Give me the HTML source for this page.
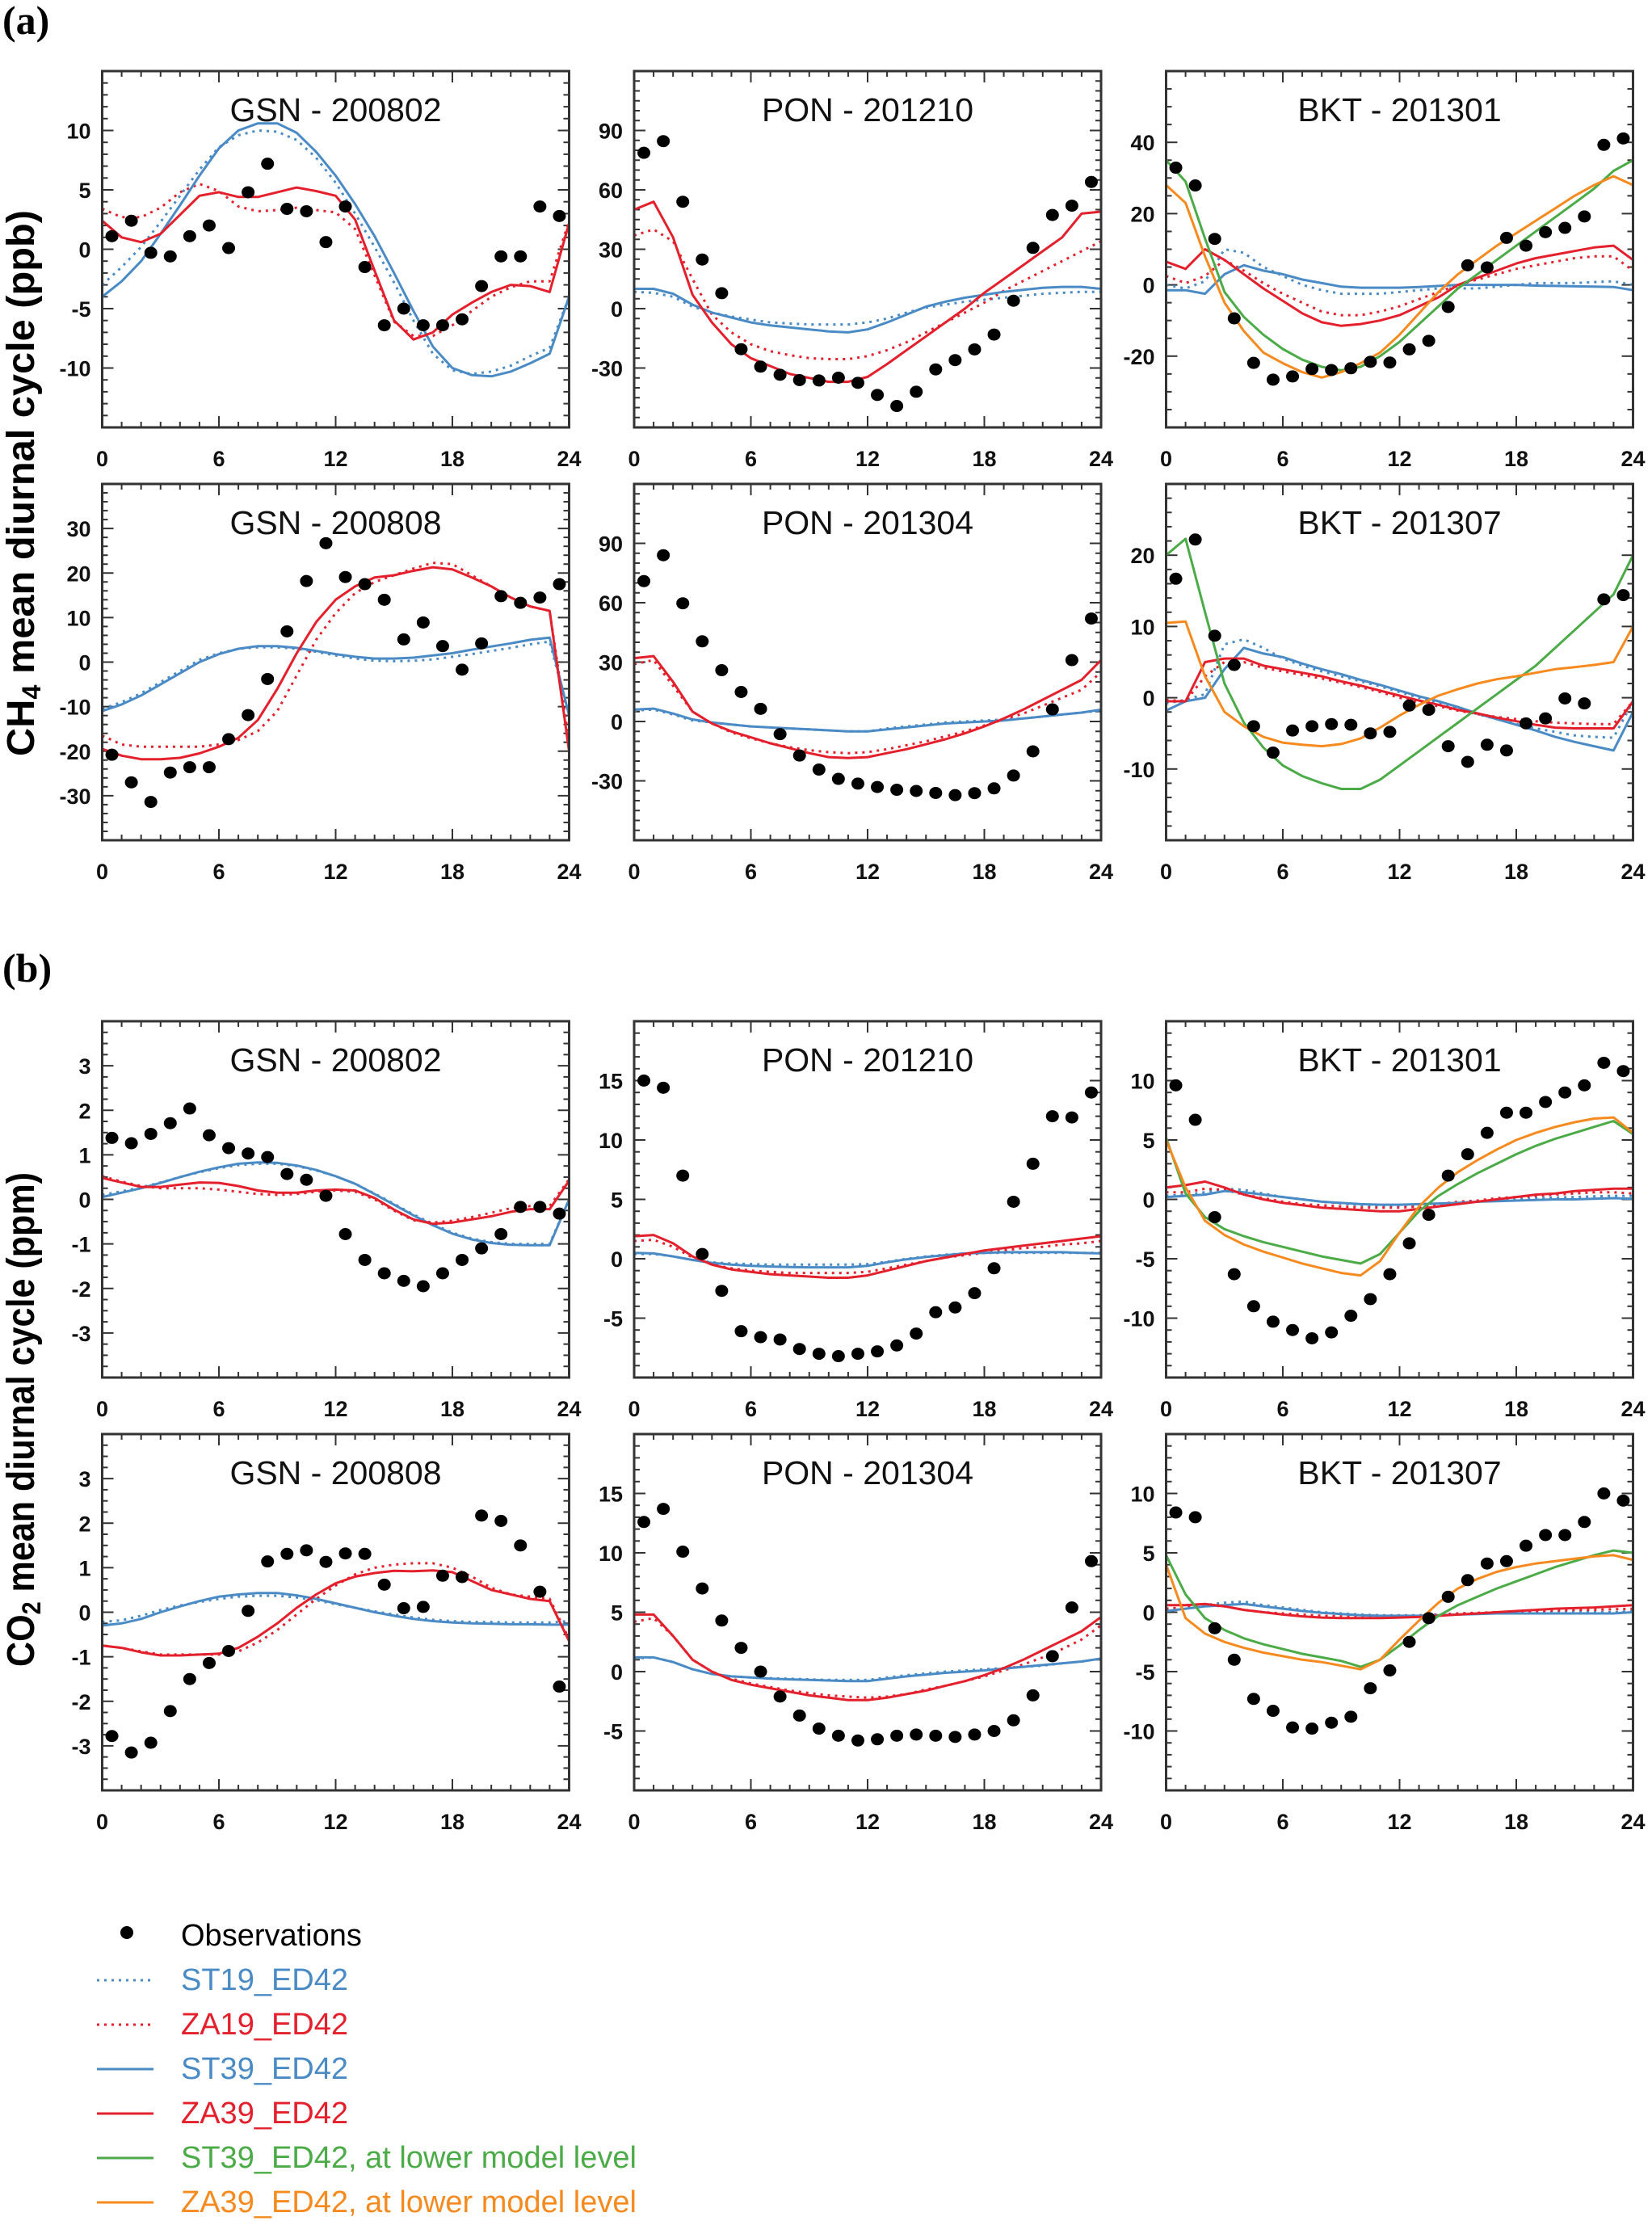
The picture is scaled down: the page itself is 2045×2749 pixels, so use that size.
<!DOCTYPE html>
<html><head><meta charset="utf-8"><title>CH4 and CO2 mean diurnal cycles</title>
<style>
html,body{margin:0;padding:0;background:#fff;}
svg{display:block;}
.tk{font-family:"Liberation Sans",Arial,sans-serif;font-weight:bold;font-size:27px;fill:#111;}
.ttl{font-family:"Liberation Sans",Arial,sans-serif;font-size:41px;fill:#111;}
.leg{font-family:"Liberation Sans",Arial,sans-serif;font-size:38px;}
</style></head>
<body>
<svg id="fig" xmlns="http://www.w3.org/2000/svg" width="2045" height="2749" viewBox="0 0 2045 2749">
<rect x="0" y="0" width="2045" height="2749" fill="#fff"/>
<text x="3" y="42" font-family="Liberation Serif,serif" font-weight="bold" font-size="50">(a)</text>
<text x="3" y="1215" font-family="Liberation Serif,serif" font-weight="bold" font-size="50">(b)</text>
<text transform="translate(42,598) rotate(-90)" text-anchor="middle" font-family="Liberation Sans,Arial,sans-serif" font-weight="bold" font-size="48" textLength="676" lengthAdjust="spacingAndGlyphs">CH<tspan font-size="32" dy="8">4</tspan><tspan dy="-8"> mean diurnal cycle (ppb)</tspan></text>
<text transform="translate(42,1757) rotate(-90)" text-anchor="middle" font-family="Liberation Sans,Arial,sans-serif" font-weight="bold" font-size="48" textLength="612" lengthAdjust="spacingAndGlyphs">CO<tspan font-size="32" dy="8">2</tspan><tspan dy="-8"> mean diurnal cycle (ppm)</tspan></text>
<g id="panels"></g>
<g id="legend"></g>
</svg>
<script>
// ===== CH4 GSN 200802 =====
const ch4_gsn0802_obs = [1.1,2.4,-0.3,-0.6,1.1,2.0,0.1,4.8,7.2,3.4,3.2,0.6,3.6,-1.5,-6.4,-5.0,-6.4,-6.4,-5.9,-3.1,-0.6,-0.6,3.6,2.8];
const ch4_gsn0802_st19 = [-3,-1.5,0.2,2.3,4.5,6.7,8.6,9.6,10.0,9.9,9.2,7.7,5.6,3.0,0.2,-2.8,-6.0,-8.8,-10.2,-10.5,-10.3,-9.8,-9.0,-8.3,-4];
const ch4_gsn0802_za19 = [3.4,2.7,2.7,3.5,4.8,5.5,4.9,3.6,3.2,3.3,3.5,3.3,3.1,1.7,-2.2,-6.1,-7.3,-7.3,-6.4,-5.2,-4.0,-3.2,-2.7,-2.7,2.4];
const ch4_gsn0802_st39 = [-4,-2.7,-1,1.3,3.7,6.2,8.5,10.0,10.6,10.6,9.8,8.2,6.2,3.8,1.1,-2.0,-5.2,-8.2,-10,-10.6,-10.7,-10.3,-9.6,-8.8,-4];
const ch4_gsn0802_za39 = [2.4,1.0,0.6,1.3,2.9,4.5,4.8,4.4,4.4,4.8,5.2,4.9,4.5,2.5,-1.8,-6.0,-7.6,-7.0,-5.5,-4.5,-3.6,-3.0,-3.1,-3.6,2.2];
// ===== CH4 PON 201210 =====
const ch4_pon1210_obs = [78.7,84.6,54,24.8,7.8,-20.5,-29.3,-33.4,-36.1,-36.3,-34.9,-37.5,-43.6,-49.2,-42,-30.7,-26,-20.6,-13.1,4,30.7,47.3,52,64];
const ch4_pon1210_st19 = [8.5,8,6,1,-2,-4,-5.5,-7,-7.5,-8,-8,-8,-7,-5,-2,0.5,2,3.5,4.5,5.5,6.5,7.5,8,8.5,8.5];
const ch4_pon1210_za19 = [37,40,34,15,-3,-12,-18,-21.5,-23.5,-25,-25.5,-25.5,-24,-21,-17,-12,-7,-2,3,9,14,19,24,29,34];
const ch4_pon1210_st39 = [10,10,7.5,2,-2,-4.5,-7,-8.5,-9.5,-10.5,-11.5,-12,-10.5,-7,-3,1,3.5,5.5,7,8.5,9.5,10.5,11,11,10];
const ch4_pon1210_za39 = [50,54,36,7,-7,-18,-25,-29,-33,-35,-37,-37,-34.5,-28,-21,-14,-7,0,8,15,22,29,36,48,49];
// ===== CH4 BKT 201301 =====
const ch4_bkt1301_obs = [32.9,27.9,12.9,-9.4,-21.9,-26.6,-25.7,-23.6,-23.9,-23.4,-21.6,-21.8,-18.1,-15.7,-6.2,5.5,4.9,13.2,11,14.8,16,19.2,39.3,41.1];
const ch4_bkt1301_st19 = [0,-1,1,10,9,5,2.5,0,-1.5,-2.5,-2.5,-2.5,-2,-1.5,-1,-1,-1,-0.5,0,0.5,0.5,0.5,0.8,1,0];
const ch4_bkt1301_za19 = [2.5,0.5,2.5,7,4,0.5,-2.5,-5,-7.5,-8.5,-8.5,-7.5,-6,-4,-2,0,1.5,3,4.5,5.5,6.5,7.5,8,8,4];
const ch4_bkt1301_st39 = [-1.5,-1.5,-2.5,3,5.5,4,3,1.5,0.5,-0.5,-0.8,-0.8,-0.8,-0.6,-0.3,0,0,0,0,-0.2,-0.3,-0.4,-0.5,-0.6,-1.5];
const ch4_bkt1301_za39 = [6.5,4.5,10,7,3,-1,-4.5,-8,-10.5,-11.5,-11,-10,-8.5,-6,-3.5,0,2,4,6,7.5,8.5,9.5,10.5,11,7];
const ch4_bkt1301_st39low = [35,29,13,-2,-9,-14,-18,-21,-23,-24,-23,-20,-16,-11,-6,-1,3,7,11,15,19,23,27,32,35];
const ch4_bkt1301_za39low = [28,23,8,-5,-13,-19,-22,-24.5,-26,-24.5,-22,-19,-14,-8,-2,3,7,11,14.5,18,21.5,25,28,30.5,28];
// ===== CH4 GSN 200808 =====
const ch4_gsn0808_obs = [-20.8,-27,-31.4,-24.8,-23.6,-23.6,-17.3,-11.9,-3.8,6.9,18.2,26.7,19.1,17.5,14,5.1,8.9,3.6,-1.7,4.2,14.8,13.3,14.5,17.5];
const ch4_gsn0808_st19 = [-10.5,-9,-7,-4.5,-2,0.5,2,3,3.3,3.3,3,2.3,1.5,0.8,0.3,0.2,0.3,0.6,1.2,1.8,2.5,3.2,4,4.6,-12];
const ch4_gsn0808_za19 = [-16.5,-18.5,-19,-19,-19,-19,-18.5,-17.5,-15.5,-11,-3,5,11,15.5,18,19.5,21,22.3,22,19.5,17,14.5,12.5,11.5,-18];
const ch4_gsn0808_st39 = [-11,-9.5,-7.5,-5,-2.5,0,1.8,3,3.6,3.6,3.2,2.5,1.8,1.2,0.8,0.8,1,1.5,2,2.8,3.5,4.2,5,5.5,-12];
const ch4_gsn0808_za39 = [-19.5,-21,-21.8,-21.8,-21.5,-20.5,-19,-17,-13,-6,2,9,14,17,19,19.5,20.5,21.3,20.8,19,17,14.5,12.5,11.5,-20];
// ===== CH4 PON 201304 =====
const ch4_pon1304_obs = [70.9,84,59.7,40.5,25.9,14.9,6.4,-6.4,-17.2,-24.3,-29,-31.4,-33.1,-34.5,-35.1,-36.1,-37.2,-36.2,-33.8,-27.3,-15.1,6.1,31,52];
const ch4_pon1304_st19 = [5.5,6,3.5,0.5,-0.5,-1.5,-2.5,-3,-3.5,-4,-4.5,-5,-5,-3.5,-2.5,-1.5,-0.5,0,0.5,1,1.5,2.5,3.5,4.5,5.5];
const ch4_pon1304_za19 = [29,31,18,5,-1,-5.5,-8.5,-11,-13,-14.5,-15.5,-16,-15.5,-14,-12,-10,-7.5,-5,-2,1,4,8,12,16,25];
const ch4_pon1304_st39 = [6,6.5,4,1,-0.5,-1.5,-2.5,-3,-3.5,-4,-4.5,-5,-5,-4,-3,-2,-1,-0.5,0,0.5,1.5,2.5,3.5,4.5,6];
const ch4_pon1304_za39 = [32,33,20,5,-1,-5,-8,-11,-13.5,-16,-18,-18.5,-18,-16,-14,-11.5,-9,-6,-2.5,1.5,6,11,16,21,31];
// ===== CH4 BKT 201307 =====
const ch4_bkt1307_obs = [16.7,22.2,8.7,4.6,-4,-7.7,-4.6,-4,-3.7,-3.8,-5,-4.8,-1.1,-1.7,-6.8,-9,-6.6,-7.4,-3.6,-2.9,-0.1,-0.8,13.8,14.4];
const ch4_bkt1307_st19 = [-0.8,-0.3,0.5,7.5,8.2,7,5.5,4.5,3.7,3,2.3,1.6,0.8,0,-0.8,-1.5,-2.3,-3,-3.7,-4.3,-4.8,-5.3,-5.5,-5.6,-0.5];
const ch4_bkt1307_za19 = [-0.3,-0.5,3,5,5,4.2,3.7,3.2,2.7,2.1,1.5,0.8,0,-0.7,-1.2,-1.8,-2.3,-2.7,-3,-3.3,-3.5,-3.6,-3.7,-3.7,-0.5];
const ch4_bkt1307_st39 = [-1.8,-0.5,0,4,7,6.2,5.7,4.8,4,3.3,2.5,1.8,1,0.2,-0.5,-1.3,-2.2,-3.0,-3.8,-4.6,-5.5,-6.2,-6.8,-7.4,-2];
const ch4_bkt1307_za39 = [-0.5,-0.5,5,5.5,5.5,4.5,4,3.5,3,2.3,1.7,1,0.3,-0.4,-1,-1.7,-2.2,-2.8,-3.3,-3.8,-4.2,-4.3,-4.3,-4.3,-0.5];
const ch4_bkt1307_st39low = [20,22.3,12,2,-3.5,-7,-9.5,-11,-12,-12.8,-12.8,-11.5,-9.5,-7.5,-5.5,-3.5,-1.5,0.5,2.5,4.5,7,9.5,12,14.5,20];
const ch4_bkt1307_za39low = [10.5,10.7,3,-2,-4,-5.5,-6.3,-6.6,-6.8,-6.5,-5.7,-4.2,-2.5,-1,0.3,1.2,2,2.6,3,3.5,4,4.3,4.6,5,10];
// ===== CO2 GSN 200802 =====
const co2_gsn0802_obs = [1.38,1.26,1.47,1.71,2.04,1.44,1.15,1.03,0.95,0.57,0.44,0.08,-0.78,-1.36,-1.66,-1.83,-1.95,-1.66,-1.36,-1.1,-0.78,-0.17,-0.17,-0.32];
const co2_gsn0802_st19 = [0.1,0.18,0.27,0.38,0.5,0.61,0.7,0.77,0.8,0.8,0.75,0.65,0.52,0.35,0.13,-0.1,-0.34,-0.55,-0.75,-0.88,-0.96,-1.0,-1.0,-1.0,0];
const co2_gsn0802_za19 = [0.52,0.4,0.3,0.25,0.25,0.25,0.22,0.17,0.12,0.1,0.12,0.17,0.2,0.17,0.0,-0.25,-0.47,-0.52,-0.48,-0.4,-0.3,-0.2,-0.15,-0.15,0.45];
const co2_gsn0802_st39 = [0.05,0.15,0.25,0.37,0.5,0.62,0.72,0.8,0.83,0.82,0.76,0.66,0.52,0.35,0.12,-0.12,-0.36,-0.58,-0.77,-0.9,-0.98,-1.02,-1.03,-1.03,0];
const co2_gsn0802_za39 = [0.48,0.38,0.28,0.28,0.33,0.38,0.37,0.3,0.2,0.15,0.15,0.2,0.22,0.2,0.03,-0.23,-0.45,-0.55,-0.52,-0.45,-0.38,-0.28,-0.22,-0.22,0.42];
// ===== CO2 PON 201210 =====
const co2_pon1210_obs = [15,14.4,7,0.4,-2.7,-6.1,-6.6,-6.8,-7.6,-8.0,-8.2,-8.0,-7.8,-7.3,-6.3,-4.5,-4.1,-2.9,-0.8,4.8,8,12,11.9,14];
const co2_pon1210_st19 = [0.4,0.4,0.2,-0.1,-0.3,-0.4,-0.45,-0.5,-0.5,-0.5,-0.5,-0.5,-0.45,-0.25,0,0.2,0.35,0.45,0.5,0.5,0.5,0.5,0.5,0.5,0.5];
const co2_pon1210_za19 = [1.5,1.6,1.0,0.1,-0.5,-0.8,-1.0,-1.1,-1.2,-1.2,-1.2,-1.2,-1.1,-0.8,-0.5,-0.2,0.1,0.3,0.5,0.7,0.9,1.0,1.2,1.3,1.5];
const co2_pon1210_st39 = [0.5,0.45,0.2,-0.1,-0.35,-0.5,-0.6,-0.65,-0.7,-0.72,-0.72,-0.72,-0.6,-0.3,-0.05,0.15,0.3,0.45,0.5,0.55,0.55,0.55,0.55,0.5,0.45];
const co2_pon1210_za39 = [1.9,2.0,1.3,0.2,-0.5,-0.9,-1.1,-1.3,-1.4,-1.5,-1.6,-1.6,-1.4,-1.0,-0.6,-0.2,0.1,0.4,0.7,0.9,1.1,1.3,1.5,1.7,1.9];
// ===== CO2 BKT 201301 =====
const co2_bkt1301_obs = [9.6,6.7,-1.5,-6.3,-9.0,-10.3,-11,-11.7,-11.2,-9.8,-8.4,-6.3,-3.7,-1.3,2,3.8,5.6,7.3,7.3,8.2,9,9.6,11.5,10.8];
const co2_bkt1301_st19 = [0.3,0.4,0.6,0.9,0.8,0.5,0.2,0,-0.2,-0.35,-0.5,-0.55,-0.55,-0.5,-0.4,-0.3,-0.2,-0.1,0,0.1,0.15,0.2,0.25,0.3,0.3];
const co2_bkt1301_za19 = [0.6,0.6,0.9,0.8,0.4,0.1,-0.2,-0.4,-0.5,-0.6,-0.7,-0.7,-0.7,-0.6,-0.4,-0.2,-0.1,0.1,0.2,0.3,0.4,0.5,0.6,0.6,0.5];
const co2_bkt1301_st39 = [0.2,0.3,0.4,0.7,0.6,0.4,0.2,0,-0.2,-0.3,-0.4,-0.45,-0.45,-0.4,-0.35,-0.3,-0.2,-0.15,-0.1,-0.05,0,0,0.05,0.1,0.05];
const co2_bkt1301_za39 = [1.0,1.2,1.5,1.0,0.4,0,-0.3,-0.5,-0.7,-0.8,-0.9,-1.0,-1.0,-0.8,-0.6,-0.4,-0.2,0,0.2,0.4,0.5,0.7,0.8,0.9,0.9];
const co2_bkt1301_st39low = [5.2,0.5,-1.5,-2.5,-3.1,-3.6,-4.0,-4.4,-4.8,-5.1,-5.4,-4.6,-2.8,-1.0,0.3,1.3,2.2,3.0,3.8,4.5,5.1,5.6,6.1,6.6,5.5];
const co2_bkt1301_za39low = [5,1,-1.8,-3,-3.8,-4.4,-4.9,-5.4,-5.8,-6.2,-6.4,-5.2,-2.8,-0.6,1.0,2.3,3.3,4.2,5.0,5.6,6.1,6.5,6.8,6.9,5.6];
// ===== CO2 GSN 200808 =====
const co2_gsn0808_obs = [-2.78,-3.15,-2.93,-2.22,-1.5,-1.14,-0.87,0.03,1.14,1.31,1.39,1.13,1.32,1.31,0.62,0.09,0.12,0.82,0.79,2.17,2.05,1.5,0.46,-1.67];
const co2_gsn0808_st19 = [-0.22,-0.18,-0.08,0.05,0.15,0.23,0.3,0.35,0.37,0.37,0.33,0.27,0.18,0.1,0.02,-0.05,-0.12,-0.17,-0.2,-0.22,-0.22,-0.23,-0.23,-0.23,-0.2];
const co2_gsn0808_za19 = [-0.75,-0.8,-0.88,-0.95,-0.95,-0.95,-0.95,-0.88,-0.68,-0.4,-0.05,0.3,0.6,0.85,1.0,1.07,1.1,1.1,1.0,0.8,0.55,0.4,0.35,0.3,-0.6];
const co2_gsn0808_st39 = [-0.3,-0.25,-0.15,0,0.13,0.25,0.35,0.4,0.43,0.43,0.38,0.3,0.2,0.1,0.0,-0.08,-0.15,-0.2,-0.23,-0.25,-0.26,-0.27,-0.27,-0.28,-0.28];
const co2_gsn0808_za39 = [-0.75,-0.8,-0.9,-0.97,-0.97,-0.95,-0.93,-0.8,-0.55,-0.25,0.1,0.4,0.65,0.8,0.88,0.93,0.92,0.94,0.9,0.7,0.5,0.4,0.3,0.25,-0.65];
// ===== CO2 PON 201304 =====
const co2_pon1304_obs = [12.6,13.7,10.1,7,4.3,2,0,-2.1,-3.7,-4.8,-5.4,-5.8,-5.7,-5.4,-5.3,-5.4,-5.5,-5.3,-5,-4.1,-2,1.3,5.4,9.3];
const co2_pon1304_st19 = [1.1,1.2,0.8,0.2,-0.2,-0.4,-0.5,-0.55,-0.6,-0.65,-0.7,-0.7,-0.7,-0.5,-0.3,-0.15,0,0.1,0.2,0.3,0.4,0.5,0.7,0.85,1.1];
const co2_pon1304_za19 = [4.2,4.5,3,1,0,-0.6,-1.0,-1.3,-1.6,-1.8,-2.0,-2.1,-2.2,-2.1,-1.9,-1.5,-1.2,-0.8,-0.4,0.1,0.6,1.2,1.9,2.7,3.9];
const co2_pon1304_st39 = [1.2,1.2,0.8,0.2,-0.2,-0.4,-0.5,-0.6,-0.65,-0.7,-0.75,-0.8,-0.8,-0.6,-0.4,-0.25,-0.1,0,0.1,0.25,0.4,0.55,0.7,0.85,1.1];
const co2_pon1304_za39 = [4.8,4.8,3,1,0,-0.7,-1.1,-1.4,-1.7,-2.0,-2.2,-2.4,-2.4,-2.2,-1.9,-1.6,-1.2,-0.8,-0.3,0.3,1.0,1.8,2.6,3.4,4.6];
// ===== CO2 BKT 201307 =====
const co2_bkt1307_obs = [8.4,8.0,-1.35,-4,-7.3,-8.3,-9.7,-9.8,-9.3,-8.8,-6.4,-4.9,-2.5,-0.5,1.3,2.7,4.1,4.3,5.6,6.5,6.5,7.6,10,9.4];
const co2_bkt1307_st19 = [0.3,0.4,0.6,0.8,0.9,0.6,0.4,0.2,0,-0.1,-0.2,-0.25,-0.25,-0.25,-0.2,-0.15,-0.1,-0.05,0,0,0,0,0,0,0.1];
const co2_bkt1307_za19 = [0.3,0.4,0.6,0.5,0.2,0,-0.1,-0.2,-0.3,-0.35,-0.4,-0.4,-0.35,-0.3,-0.2,-0.1,-0.05,0,0.05,0.1,0.15,0.2,0.2,0.25,0.3];
const co2_bkt1307_st39 = [0.1,0.3,0.5,0.6,0.7,0.5,0.3,0.1,-0.05,-0.15,-0.25,-0.3,-0.3,-0.3,-0.25,-0.2,-0.15,-0.1,-0.1,-0.1,-0.1,-0.1,-0.1,-0.1,0];
const co2_bkt1307_za39 = [0.6,0.6,0.7,0.5,0.2,0,-0.2,-0.35,-0.45,-0.5,-0.5,-0.5,-0.45,-0.4,-0.3,-0.2,-0.1,0,0.1,0.2,0.3,0.35,0.4,0.5,0.6];
const co2_bkt1307_st39low = [4.8,1.5,-0.5,-1.5,-2.2,-2.7,-3.1,-3.5,-3.8,-4.1,-4.6,-4.0,-2.8,-1.5,-0.3,0.6,1.3,2.0,2.6,3.2,3.8,4.3,4.8,5.2,5.0];
const co2_bkt1307_za39low = [4,-0.5,-1.8,-2.5,-3,-3.4,-3.7,-4.0,-4.2,-4.5,-4.8,-4.0,-2.3,-0.7,0.8,2.0,2.8,3.4,3.8,4.1,4.3,4.5,4.7,4.8,4.4];

// ===== axis tick labels =====
const xTickLabels = [0,6,12,18,24];
const ticks_gsn_ch4_0802 = [-10,-5,0,5,10];
const ticks_pon_ch4 = [-30,0,30,60,90];
const ticks_bkt_ch4_1301 = [-20,0,20,40];
const ticks_gsn_ch4_0808 = [-30,-20,-10,0,10,20,30];
const ticks_bkt_ch4_1307 = [-10,0,10,20];
const ticks_gsn_co2 = [-3,-2,-1,0,1,2,3];
const ticks_pon_co2 = [-5,0,5,10,15];
const ticks_bkt_co2 = [-10,-5,0,5,10];
const panelTitles = ["GSN - 200802","PON - 201210","BKT - 201301","GSN - 200808","PON - 201304","BKT - 201307","GSN - 200802","PON - 201210","BKT - 201301","GSN - 200808","PON - 201304","BKT - 201307"];
const legendLabels = ["Observations","ST19_ED42","ZA19_ED42","ST39_ED42","ZA39_ED42","ST39_ED42, at lower model level","ZA39_ED42, at lower model level"];

const C = {st:'#4a8bc6', za:'#e3202c', gr:'#4bab47', or:'#f68a1f'};
const NS = 'http://www.w3.org/2000/svg';
const colL = [126.5, 785, 1443.5], PW = 578, rowT = [88, 599, 1264, 1775], PH = 441;

const panels = [
 {name:'ch4-gsn-200802',c:0,r:0,ymin:-15,ymax:15,minor:1,ticks:ticks_gsn_ch4_0802,obs:ch4_gsn0802_obs,st19:ch4_gsn0802_st19,za19:ch4_gsn0802_za19,st39:ch4_gsn0802_st39,za39:ch4_gsn0802_za39},
 {name:'ch4-pon-201210',c:1,r:0,ymin:-60,ymax:120,minor:5,ticks:ticks_pon_ch4,obs:ch4_pon1210_obs,st19:ch4_pon1210_st19,za19:ch4_pon1210_za19,st39:ch4_pon1210_st39,za39:ch4_pon1210_za39},
 {name:'ch4-bkt-201301',c:2,r:0,ymin:-40,ymax:60,minor:5,ticks:ticks_bkt_ch4_1301,obs:ch4_bkt1301_obs,st19:ch4_bkt1301_st19,za19:ch4_bkt1301_za19,st39:ch4_bkt1301_st39,za39:ch4_bkt1301_za39,gr:ch4_bkt1301_st39low,or:ch4_bkt1301_za39low},
 {name:'ch4-gsn-200808',c:0,r:1,ymin:-40,ymax:40,minor:2,ticks:ticks_gsn_ch4_0808,obs:ch4_gsn0808_obs,st19:ch4_gsn0808_st19,za19:ch4_gsn0808_za19,st39:ch4_gsn0808_st39,za39:ch4_gsn0808_za39},
 {name:'ch4-pon-201304',c:1,r:1,ymin:-60,ymax:120,minor:5,ticks:ticks_pon_ch4,obs:ch4_pon1304_obs,st19:ch4_pon1304_st19,za19:ch4_pon1304_za19,st39:ch4_pon1304_st39,za39:ch4_pon1304_za39},
 {name:'ch4-bkt-201307',c:2,r:1,ymin:-20,ymax:30,minor:2,ticks:ticks_bkt_ch4_1307,obs:ch4_bkt1307_obs,st19:ch4_bkt1307_st19,za19:ch4_bkt1307_za19,st39:ch4_bkt1307_st39,za39:ch4_bkt1307_za39,gr:ch4_bkt1307_st39low,or:ch4_bkt1307_za39low},
 {name:'co2-gsn-200802',c:0,r:2,ymin:-4,ymax:4,minor:0.25,ticks:ticks_gsn_co2,obs:co2_gsn0802_obs,st19:co2_gsn0802_st19,za19:co2_gsn0802_za19,st39:co2_gsn0802_st39,za39:co2_gsn0802_za39},
 {name:'co2-pon-201210',c:1,r:2,ymin:-10,ymax:20,minor:1,ticks:ticks_pon_co2,obs:co2_pon1210_obs,st19:co2_pon1210_st19,za19:co2_pon1210_za19,st39:co2_pon1210_st39,za39:co2_pon1210_za39},
 {name:'co2-bkt-201301',c:2,r:2,ymin:-15,ymax:15,minor:1,ticks:ticks_bkt_co2,obs:co2_bkt1301_obs,st19:co2_bkt1301_st19,za19:co2_bkt1301_za19,st39:co2_bkt1301_st39,za39:co2_bkt1301_za39,gr:co2_bkt1301_st39low,or:co2_bkt1301_za39low},
 {name:'co2-gsn-200808',c:0,r:3,ymin:-4,ymax:4,minor:0.25,ticks:ticks_gsn_co2,obs:co2_gsn0808_obs,st19:co2_gsn0808_st19,za19:co2_gsn0808_za19,st39:co2_gsn0808_st39,za39:co2_gsn0808_za39},
 {name:'co2-pon-201304',c:1,r:3,ymin:-10,ymax:20,minor:1,ticks:ticks_pon_co2,obs:co2_pon1304_obs,st19:co2_pon1304_st19,za19:co2_pon1304_za19,st39:co2_pon1304_st39,za39:co2_pon1304_za39},
 {name:'co2-bkt-201307',c:2,r:3,ymin:-15,ymax:15,minor:1,ticks:ticks_bkt_co2,obs:co2_bkt1307_obs,st19:co2_bkt1307_st19,za19:co2_bkt1307_za19,st39:co2_bkt1307_st39,za39:co2_bkt1307_za39,gr:co2_bkt1307_st39low,or:co2_bkt1307_za39low}
];

function mk(tag, attrs, parent){
  const e = document.createElementNS(NS, tag);
  for (const k in attrs) e.setAttribute(k, attrs[k]);
  if (parent) parent.appendChild(e);
  return e;
}

const root = document.getElementById('panels');
panels.forEach((p, pi) => {
  const L = colL[p.c], T = rowT[p.r], R = L + PW, B = T + PH;
  const xs = h => L + h / 24 * PW;
  const ys = v => B - (v - p.ymin) / (p.ymax - p.ymin) * PH;
  const g = mk('g', {}, root);
  
  
  const tg = mk('g', {stroke:'#333','stroke-width':2}, g);
  
  
  for (let h = 0; h <= 24; h++) {
    const len = h % 6 === 0 ? 14 : 7, x = xs(h);
    mk('line', {x1:x, y1:B, x2:x, y2:B - len}, tg);
    mk('line', {x1:x, y1:T, x2:x, y2:T + len}, tg);
  }
  const nMin = Math.round((p.ymax - p.ymin) / p.minor);
  for (let i = 0; i <= nMin; i++) {
    const v = p.ymin + i * p.minor, y = ys(v);
    const major = p.ticks.some(t => Math.abs(t - v) < 1e-6);
    const len = major ? 14 : 7;
    mk('line', {x1:L, y1:y, x2:L + len, y2:y}, tg);
    mk('line', {x1:R, y1:y, x2:R - len, y2:y}, tg);
  }
  xTickLabels.forEach(t => {
    const tx = mk('text', {x:xs(t), y:B + 48, 'text-anchor':'middle', class:'tk'}, g);
    
    
    tx.textContent = t;
  });
  p.ticks.forEach(t => {
    const ty = mk('text', {x:L - 14, y:ys(t) + 10, 'text-anchor':'end', class:'tk'}, g);
    
    
    ty.textContent = t;
  });
  const tt = mk('text', {x:L + PW / 2, y:T + 62, 'text-anchor':'middle', class:'ttl'}, g);
  
  
  tt.textContent = panelTitles[pi];
  const clip = mk('clipPath', {id:'clip' + pi}, g);
  mk('rect', {x:L, y:T, width:PW, height:PH}, clip);
  const sg = mk('g', {'clip-path':'url(#clip' + pi + ')'}, g);
  const line = (arr, color, dotted, nm) => {
    const d = arr.map((v, i) => (i ? 'L' : 'M') + xs(i).toFixed(1) + ',' + ys(v).toFixed(1)).join('');
    const el = mk('path', {d:d, fill:'none', stroke:color, 'stroke-width':3, 'stroke-linejoin':'round'}, sg);
    if (dotted) el.setAttribute('stroke-dasharray', '3 6');
    
    
  };
  line(p.st19, C.st, true, 'line-st19-ed42');
  line(p.za19, C.za, true, 'line-za19-ed42');
  line(p.st39, C.st, false, 'line-st39-ed42');
  line(p.za39, C.za, false, 'line-za39-ed42');
  if (p.gr) line(p.gr, C.gr, false, 'line-st39-ed42-lower-level');
  if (p.or) line(p.or, C.or, false, 'line-za39-ed42-lower-level');
  p.obs.forEach((v, i) => {
    const c = mk('ellipse', {cx:xs(i + 0.5), cy:ys(v), rx:8, ry:7.5, fill:'#000'}, g);
    
    
  });
  const fr = mk('rect', {x:L, y:T, width:PW, height:PH, fill:'none', stroke:'#333', 'stroke-width':3}, g);
  
  
});

// legend
const lg = document.getElementById('legend');
const legColors = ['#000', C.st, C.za, C.st, C.za, C.gr, C.or];
const legDotted = [false, true, true, false, false, false, false];
legendLabels.forEach((lab, i) => {
  const y = 2396 + i * 55;
  const eg = mk('g', {}, lg);
  
  
  if (i === 0) {
    mk('ellipse', {cx:157, cy:y - 4, rx:8, ry:8, fill:'#000'}, eg);
  } else {
    const ln = mk('line', {x1:120, y1:y, x2:190, y2:y, stroke:legColors[i], 'stroke-width':3}, eg);
    if (legDotted[i]) ln.setAttribute('stroke-dasharray', '3 6');
  }
  const tx = mk('text', {x:224, y:y + 12, class:'leg', fill:legColors[i]}, eg);
  tx.textContent = lab;
});
</script>
</body></html>
